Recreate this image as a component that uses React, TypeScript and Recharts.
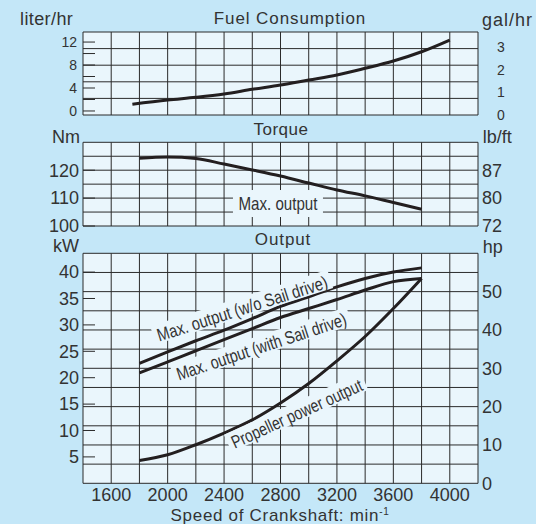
import { LineChart, Line, XAxis, YAxis, CartesianGrid, ReferenceDot } from 'recharts';

// crankshaft speed, min-1
const rpm = [1800, 2000, 2200, 2400, 2600, 2800, 3000, 3200, 3400, 3600, 3800];
const fuelRpm = [1750, 2000, 2200, 2400, 2600, 2800, 3000, 3200, 3400, 3600, 3800, 4000];

// series
const fuelLiters = [1.17, 1.91, 2.38, 2.96, 3.77, 4.52, 5.39, 6.26, 7.43, 8.7, 10.31, 12.35];
const torqueNm = [124.3, 124.7, 124.2, 122.2, 120.1, 117.9, 115.4, 112.9, 110.8, 108.4, 106.0];
const outputNoSail = [22.7, 24.9, 27.0, 29.0, 31.2, 33.5, 35.3, 37.2, 38.8, 40.0, 40.8];
const outputSail = [20.9, 23.0, 25.1, 27.2, 29.3, 31.4, 33.1, 34.8, 36.6, 38.2, 38.8];
const propellerOutput = [4.3, 5.4, 7.3, 9.5, 12.0, 15.2, 18.9, 23.2, 27.8, 33.1, 38.8];

// ticks / labels
const rpmGrid = [1400, 1600, 1800, 2000, 2200, 2400, 2600, 2800, 3000, 3200, 3400, 3600, 3800, 4000, 4200];
const rpmLabels = [1600, 2000, 2400, 2800, 3200, 3600, 4000];
const literTicks = [0, 2, 4, 6, 8, 10, 12];
const literLabels = [0, 4, 8, 12];
const galTicks = [0, 1, 2, 3];
const nmTicks = [100, 110, 120];
const lbftLabels = [72, 80, 87];
const kwTicks = [5, 10, 15, 20, 25, 30, 35, 40];
const hpTicks = [0, 10, 20, 30, 40, 50];

// grid rows (the sheet's grid does not follow the labelled ticks)
const fuelGridRows = [0, 1, 2, 3, 4, 5];
const torqueGridRows = [100, 105, 110, 115, 120, 125, 130];
const outputGridRows = [0, 5, 10, 15, 20, 25, 30, 35, 40, 45, 50, 55, 60];

const FONT = '"Liberation Sans", Arial, Helvetica, sans-serif';
const INK = '#333333';
const CURVE = '#231f20';
const PAGE_BG = '#c4e7f8';
const PLOT_BG = '#eaf6fc';
const GRID = '#2b2b2b';

const fuelData = fuelRpm.map((r, i) => ({ rpm: r, fuel: fuelLiters[i] }));
const torqueData = rpm.map((r, i) => ({ rpm: r, torque: torqueNm[i] }));
const outputData = rpm.map((r, i) => ({
  rpm: r,
  noSail: outputNoSail[i],
  sail: outputSail[i],
  prop: propellerOutput[i],
}));

// rotated text with a plot-coloured patch behind it, like the printed sheet
function tag(text: string, angle: number, length: number, fontSize: number, boxW: number, boxTop: number, boxH: number) {
  return (p: any) => (
    <g transform={`translate(${p.cx},${p.cy}) rotate(${angle})`}>
      <rect x={-boxW / 2} y={boxTop} width={boxW} height={boxH} fill={PLOT_BG} />
      <text
        x={0}
        y={0}
        dy="0.35em"
        textAnchor="middle"
        textLength={length}
        lengthAdjust="spacingAndGlyphs"
        fontSize={fontSize}
        fontFamily={FONT}
        fill={INK}
      >
        {text}
      </text>
    </g>
  );
}

// grid-only axes still need a truthy tick, otherwise the grid gets no lines
const noTick = () => <g />;

const tickStyle = { fill: INK, fontSize: 18, fontFamily: FONT };
const smallTick = { fill: INK, fontSize: 14, fontFamily: FONT };

function rpmAxis(show: boolean) {
  return (
    <XAxis
      dataKey="rpm"
      type="number"
      domain={[1400, 4200]}
      ticks={rpmGrid}
      interval={0}
      allowDataOverflow
      axisLine={false}
      tickLine={false}
      tickSize={0}
      tickMargin={5}
      height={show ? 24 : 0}
      tick={show ? tickStyle : noTick}
      tickFormatter={(v: number) => (rpmLabels.includes(v) ? String(v) : '')}
    />
  );
}

function gridRows(rows: number[]) {
  return (
    <YAxis
      type="number"
      domain={[rows[0], rows[rows.length - 1]]}
      allowDataOverflow
      ticks={rows}
      interval={0}
      width={0}
      tick={noTick}
      axisLine={false}
      tickLine={false}
      orientation="right"
    />
  );
}

export default function App() {
  return (
    <div style={{ position: 'absolute', left: 0, top: 0, width: 536, height: 524, background: PAGE_BG, fontFamily: FONT }}>
      {/* Fuel consumption */}
      <div style={{ position: 'absolute', left: 0, top: 0 }}>
        <LineChart width={536} height={128} data={fuelData} margin={{ top: 32, right: 18, left: 43, bottom: 13 }}>
          <CartesianGrid stroke={GRID} strokeWidth={1} fill={PLOT_BG} fillOpacity={1} />
          {rpmAxis(false)}
          {gridRows(fuelGridRows)}
          <YAxis
            yAxisId="left"
            type="number"
            domain={[-0.7, 13.75]}
            allowDataOverflow
            ticks={literTicks}
            interval={0}
            width={40}
            axisLine={false}
            tickLine={{ stroke: GRID }}
            tickSize={-12}
            tickMargin={18}
            tick={smallTick}
            tickFormatter={(v: number) => (literLabels.includes(v) ? String(v) : '')}
          />
          <YAxis
            yAxisId="right"
            orientation="right"
            type="number"
            domain={[0, 3.66]}
            allowDataOverflow
            ticks={galTicks}
            interval={0}
            width={40}
            axisLine={false}
            tickLine={false}
            tickSize={0}
            tickMargin={19}
            tick={smallTick}
          />
          <Line yAxisId="left" type="monotone" dataKey="fuel" stroke={CURVE} strokeWidth={3} dot={false} isAnimationActive={false} />
        </LineChart>
      </div>

      {/* Torque */}
      <div style={{ position: 'absolute', left: 0, top: 120 }}>
        <LineChart width={536} height={115} data={torqueData} margin={{ top: 22.3, right: 18, left: 43, bottom: 9 }}>
          <CartesianGrid stroke={GRID} strokeWidth={1} fill={PLOT_BG} fillOpacity={1} />
          {rpmAxis(false)}
          {gridRows(torqueGridRows)}
          <YAxis
            yAxisId="left"
            type="number"
            domain={[100, 130]}
            allowDataOverflow
            ticks={nmTicks}
            interval={0}
            width={40}
            axisLine={false}
            tickLine={{ stroke: GRID }}
            tickSize={-12}
            tickMargin={16}
            tick={tickStyle}
          />
          <YAxis
            yAxisId="right"
            orientation="right"
            type="number"
            domain={[100, 130]}
            allowDataOverflow
            ticks={nmTicks}
            interval={0}
            width={40}
            axisLine={false}
            tickLine={false}
            tickSize={0}
            tickMargin={4}
            tick={tickStyle}
            tickFormatter={(v: number) => String(lbftLabels[nmTicks.indexOf(v)])}
          />
          <Line yAxisId="left" type="monotone" dataKey="torque" stroke={CURVE} strokeWidth={3} dot={false} isAnimationActive={false} />
          <ReferenceDot yAxisId="left" x={2782} y={108.06} r={1} shape={tag('Max. output', 0, 79, 19, 90, -13.5, 27)} />
        </LineChart>
      </div>

      {/* Output */}
      <div style={{ position: 'absolute', left: 0, top: 235 }}>
        <LineChart width={536} height={289} data={outputData} margin={{ top: 18.3, right: 18, left: 43, bottom: 16.7 }}>
          <CartesianGrid stroke={GRID} strokeWidth={1} fill={PLOT_BG} fillOpacity={1} />
          {rpmAxis(true)}
          {gridRows(outputGridRows)}
          <YAxis
            yAxisId="left"
            type="number"
            domain={[0, 43.56]}
            allowDataOverflow
            ticks={kwTicks}
            interval={0}
            width={40}
            axisLine={false}
            tickLine={{ stroke: GRID }}
            tickSize={-12}
            tickMargin={16}
            tick={tickStyle}
          />
          <YAxis
            yAxisId="right"
            orientation="right"
            type="number"
            domain={[0, 60]}
            allowDataOverflow
            ticks={hpTicks}
            interval={0}
            width={40}
            axisLine={false}
            tickLine={false}
            tickSize={0}
            tickMargin={4}
            tick={tickStyle}
          />
          <ReferenceDot yAxisId="left" x={2528} y={33.1} r={1} shape={tag('Max. output (w/o Sail drive)', -17.7, 178, 18, 186, -11, 19)} />
          <ReferenceDot yAxisId="left" x={2665} y={25.9} r={1} shape={tag('Max. output (with Sail drive)', -18.3, 178, 18, 186, -11, 19)} />
          <ReferenceDot yAxisId="left" x={2915} y={13.2} r={1} shape={tag('Propeller power output', -24.5, 142, 18, 150, -11, 19)} />
          <Line yAxisId="left" type="monotone" dataKey="noSail" stroke={CURVE} strokeWidth={3} dot={false} isAnimationActive={false} />
          <Line yAxisId="left" type="monotone" dataKey="sail" stroke={CURVE} strokeWidth={3} dot={false} isAnimationActive={false} />
          <Line yAxisId="left" type="monotone" dataKey="prop" stroke={CURVE} strokeWidth={3} dot={false} isAnimationActive={false} />
        </LineChart>
      </div>

      {/* titles and units */}
      <svg width={536} height={524} style={{ position: 'absolute', left: 0, top: 0, pointerEvents: 'none' }} fontFamily={FONT} fill={INK}>
        <text x={20} y={25} fontSize={18} letterSpacing={0.4}>liter/hr</text>
        <text x={290} y={24.3} fontSize={17} letterSpacing={0.9} textAnchor="middle">Fuel Consumption</text>
        <text x={482} y={26} fontSize={18} letterSpacing={1}>gal/hr</text>

        <text x={80} y={142.7} fontSize={18} textAnchor="end">Nm</text>
        <text x={281} y={135} fontSize={17} letterSpacing={0.5} textAnchor="middle">Torque</text>
        <text x={482.7} y={142.7} fontSize={18}>lb/ft</text>

        <text x={79} y={251.5} fontSize={18} textAnchor="end">kW</text>
        <text x={283} y={245} fontSize={17} letterSpacing={0.9} textAnchor="middle">Output</text>
        <text x={482.7} y={253} fontSize={18}>hp</text>

        <text x={280} y={520.5} fontSize={17} letterSpacing={0.7} textAnchor="middle">
          Speed of Crankshaft: min<tspan fontSize={10} dy={-6}>-1</tspan>
        </text>
      </svg>
    </div>
  );
}
